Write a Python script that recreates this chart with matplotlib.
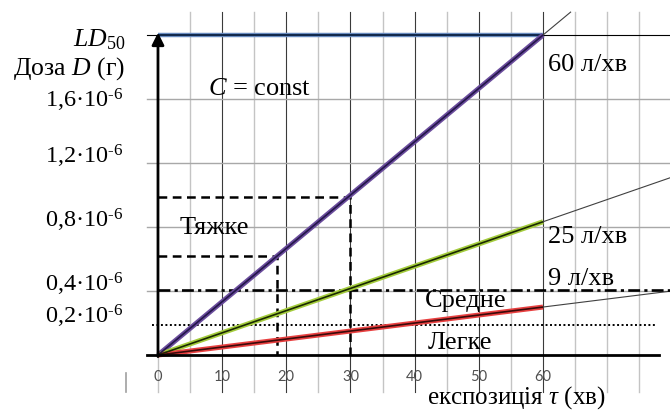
import numpy as np
import matplotlib
matplotlib.use('Agg')
import matplotlib.pyplot as plt

plt.rcParams['font.family'] = ['Liberation Serif', 'DejaVu Serif']
plt.rcParams['mathtext.fontset'] = 'custom'
plt.rcParams['mathtext.rm'] = 'Liberation Serif'
plt.rcParams['mathtext.it'] = 'Liberation Serif:italic'

# дані: витрата повітря (л/хв) та доза через 60 хв (10^-6 г)
flow_labels   = ['60 л/хв', '25 л/хв', '9 л/хв']
dose_at_60    = [2.0, 0.833, 0.30]
line_colors   = ['#6a4c9c', '#a4cc3c', '#e84040']
core_colors   = ['#24164a', '#1a2a00', '#3a0a0a']
LD50          = 2.0
y_ticks       = [0.2, 0.4, 0.8, 1.2, 1.6]
y_tick_labels = [r'0,2·10$^{\text{-}6}$', r'0,4·10$^{\text{-}6}$', r'0,8·10$^{\text{-}6}$',
                 r'1,2·10$^{\text{-}6}$', r'1,6·10$^{\text{-}6}$']
x_ticks       = [0, 10, 20, 30, 40, 50, 60]

# рівні тяжкості
heavy_points  = [(30, 0.99), (18.6, 0.62)]
medium_level  = 0.405
light_level   = 0.19

t_left, t_right = -24.62, 79.79
d_bottom, d_top = -0.356, 2.219
grid_top, grid_bot = 2.144, -0.231

fig = plt.figure(figsize=(6.7, 4.12), dpi=100)
ax = fig.add_axes([0, 0, 1, 1])
ax.set_xlim(t_left, t_right)
ax.set_ylim(d_bottom, d_top)
ax.axis('off')

# сітка
for t in range(5, 80, 5):
    if t % 10 == 0 and t <= 60:
        ax.plot([t, t], [grid_bot, grid_top], color='#3a3a3a', lw=0.8, zorder=1)
    else:
        ax.plot([t, t], [grid_bot, grid_top], color='#c4c4c4', lw=1.0, zorder=1)
for y in [0.4, 0.8, 1.2, 1.6]:
    ax.plot([-1.7, t_right], [y, y], color='#a8a8a8', lw=1.0, zorder=1)
ax.plot([-1.7, t_right], [LD50, LD50], color='black', lw=0.8, zorder=1)
ax.plot([0, 0], [grid_bot, -0.02], color='#c4c4c4', lw=1.0, zorder=1)
ax.plot([-4.99, -4.99], [-0.11, -0.23], color='#a0a0a0', lw=1.2, zorder=1)

# LD50
ax.plot([0, 60], [LD50, LD50], color='#6a8cc0', lw=3.2, zorder=4, solid_capstyle='butt')
ax.plot([0, 60], [LD50, LD50], color='#10284a', lw=1.4, zorder=5, solid_capstyle='butt')

# рівні тяжкості
for t, d in heavy_points:
    ax.plot([0, t, t], [d, d, 0], color='black', lw=1.8, dashes=[3.5, 2.2], zorder=3)
ax.plot([0, t_right], [medium_level, medium_level], color='black', lw=1.9,
        dashes=[4.5, 1.6, 1.2, 1.6], zorder=3)
ax.plot([-1.0, 77.8], [light_level, light_level], color='black', lw=1.4,
        dashes=[1.0, 1.3], zorder=3)

# лінії доз
ext_end = [64.3, t_right, t_right]
for d60, col, core, te in zip(dose_at_60, line_colors, core_colors, ext_end):
    ax.plot([60, te], [d60, d60 * te / 60], color='#404040', lw=0.8, zorder=2)
    ax.plot([0, 60], [0, d60], color=col, lw=3.6, zorder=6, solid_capstyle='butt')
    ax.plot([0, 60], [0, d60], color=core, lw=1.2, zorder=7, solid_capstyle='butt')

# осі
ax.plot([-1.7, 78], [0, 0], color='black', lw=2.0, zorder=8)
ax.annotate('', xy=(t_right + 0.3, 0), xytext=(70, 0),
            arrowprops=dict(arrowstyle='-|>', lw=2.0, color='black', mutation_scale=16), zorder=8)
ax.annotate('', xy=(0, 2.015), xytext=(0, -0.01),
            arrowprops=dict(arrowstyle='-|>', lw=2.0, color='black', mutation_scale=18,
                            shrinkA=0, shrinkB=0), zorder=8)

# підписи осі y
for y, lab in zip(y_ticks, y_tick_labels):
    yy = y - 0.056 if y == 1.6 else y
    ax.text(-5.3, yy, lab, ha='right', va='baseline', fontsize=17.5)
ax.text(-5.1, 1.97, r'$\mathit{LD_{50}}$', ha='right', va='center', fontsize=18.5)
ax.text(-5.1, 1.79, 'Доза $D$ (г)', ha='right', va='center', fontsize=18.5)

# підписи осі x
for t in x_ticks:
    ax.text(t, -0.14, str(t), ha='center', va='center', fontsize=10.5,
            color='#505050', family='Lato')
ax.text(55.8, -0.35, 'експозиція $τ$ (хв)', ha='center', va='bottom', fontsize=18)

# підписи ліній
label_y = [1.775, 0.70, 0.4375]
for lab, ly in zip(flow_labels, label_y):
    ax.text(60.8, ly, lab, ha='left', va='baseline', fontsize=19)
ax.text(7.8, 1.625, '$C$ = const', ha='left', va='baseline', fontsize=19)
ax.text(3.4, 0.755, 'Тяжке', ha='left', va='baseline', fontsize=19)
ax.text(41.6, 0.30, 'Средне', ha='left', va='baseline', fontsize=19)
ax.text(42.1, 0.0375, 'Легке', ha='left', va='baseline', fontsize=19)

fig.savefig('out.png', dpi=100)
